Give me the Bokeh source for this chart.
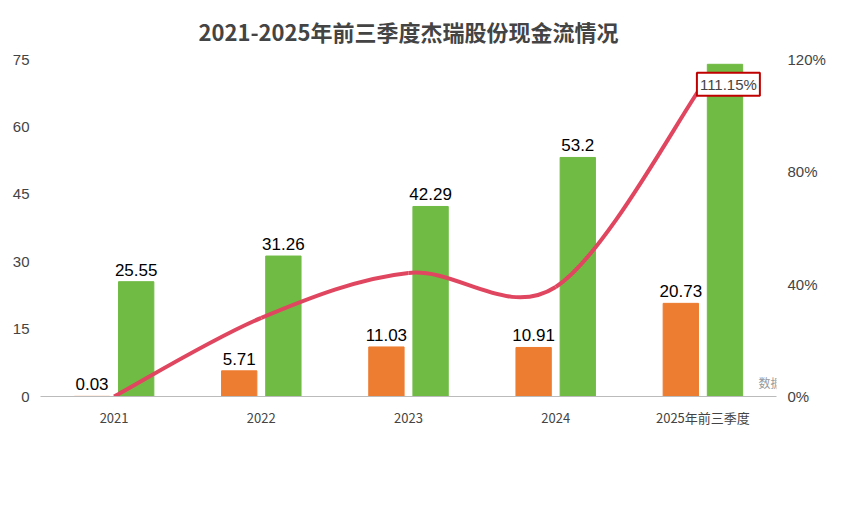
from bokeh.plotting import figure
from bokeh.models import ColumnDataSource, Range1d, LinearAxis, Legend, LegendItem, Label, FixedTicker, CustomJSTickFormatter
from bokeh.transform import dodge
from bokeh.embed import file_html
from bokeh.resources import INLINE

years = ["2021", "2022", "2023", "2024", "2025年前三季度"]
net_increase = [0.03, 5.71, 11.03, 10.91, 20.73]
ending_balance = [25.55, 31.26, 42.29, 53.2, 73.93]
ratio = [0.0, 28.0, 44.0, 39.0, 111.15]

FONT = "Noto Sans CJK SC"
src = ColumnDataSource(dict(x=years, a=net_increase, b=ending_balance,
                            la=[str(v) for v in net_increase], lb=[str(v) for v in ending_balance]))

p = figure(x_range=years, y_range=Range1d(0, 75), width=836, height=496,
           output_backend="svg", toolbar_location=None,
           title="2021-2025年前三季度杰瑞股份现金流情况",
           min_border_left=40, min_border_right=60, min_border_top=10, min_border_bottom=100)
p.title.align = "center"
p.title.text_font = FONT
p.title.text_font_size = "22px"
p.title.text_font_style = "bold"
p.title.standoff = 25
p.outline_line_color = None
p.border_fill_color = "white"
p.xgrid.visible = False
p.ygrid.visible = False

p.yaxis.ticker = FixedTicker(ticks=[0, 15, 30, 45, 60, 75])
p.yaxis.axis_line_color = None
p.yaxis.major_tick_line_color = None
p.yaxis.minor_tick_line_color = None
p.yaxis.major_label_text_font_size = "15px"
p.xaxis.axis_line_color = "#bbbbbb"
p.xaxis.major_tick_line_color = None
p.xaxis.major_label_text_font = FONT
p.xaxis.major_label_text_font_size = "13px"

orange = "#ED7D31"
green = "#70BB44"
r1 = p.vbar(x=dodge("x", -0.15, range=p.x_range), top="a", width=0.24, source=src, color=orange)
r2 = p.vbar(x=dodge("x", 0.15, range=p.x_range), top="b", width=0.24, source=src, color=green)
p.text(x=dodge("x", -0.15, range=p.x_range), y="a", text="la", source=src, text_align="center",
       text_baseline="bottom", y_offset=-6, text_font_size="17px")
p.text(x=dodge("x", 0.15, range=p.x_range), y="b", text="lb", source=src, text_align="center",
       text_baseline="bottom", y_offset=-6, text_font_size="17px")

p.extra_y_ranges = {"r": Range1d(0, 120)}
ax = LinearAxis(y_range_name="r", ticker=FixedTicker(ticks=[0, 40, 80, 120]))
ax.formatter = CustomJSTickFormatter(code="return tick + '%'")
ax.axis_line_color = None
ax.major_tick_line_color = None
ax.minor_tick_line_color = None
ax.major_label_text_font_size = "15px"
p.add_layout(ax, "right")

# smooth curve via Catmull-Rom bezier segments
xs = list(range(len(years)))
x0, y0, x1, y1, cx0, cy0, cx1, cy1 = [], [], [], [], [], [], [], []
for i in range(len(xs) - 1):
    pa = (xs[max(i - 1, 0)], ratio[max(i - 1, 0)])
    pb = (xs[i], ratio[i]); pc = (xs[i + 1], ratio[i + 1])
    pd = (xs[min(i + 2, len(xs) - 1)], ratio[min(i + 2, len(xs) - 1)])
    x0.append(pb[0] + 0.5); y0.append(pb[1]); x1.append(pc[0] + 0.5); y1.append(pc[1])
    cx0.append(pb[0] + 0.5 + (pc[0] - pa[0]) / 6); cy0.append(pb[1] + (pc[1] - pa[1]) / 6)
    cx1.append(pc[0] + 0.5 - (pd[0] - pb[0]) / 6); cy1.append(pc[1] - (pd[1] - pb[1]) / 6)
r3 = p.bezier(x0=x0, y0=y0, x1=x1, y1=y1, cx0=cx0, cy0=cy0, cx1=cx1, cy1=cy1,
              line_color="#E0465F", line_width=4, y_range_name="r")

p.add_layout(Label(x=4.5, y=ratio[-1], y_range_name="r", text="111.15%", x_offset=-6,
                   text_baseline="middle", text_font_size="15px",
                   border_line_color="#C00000", border_line_width=2,
                   background_fill_color="white", padding=3))

leg1 = Legend(items=[LegendItem(label="现金及现金等价物净增加额（亿元）", renderers=[r1]),
                     LegendItem(label="期末现金及现金等价物余额（亿元）", renderers=[r2])],
              orientation="horizontal", border_line_color=None, label_text_font=FONT,
              label_text_font_size="13px", spacing=30, location=(30, -70),
              background_fill_alpha=0, padding=0, margin=0)
leg2 = Legend(items=[LegendItem(label="收现比（%）", renderers=[r3])],
              border_line_color=None, label_text_font=FONT, label_text_font_size="13px",
              location=(30, -98), background_fill_alpha=0, padding=0, margin=0)
p.add_layout(leg1, "center")
p.add_layout(leg2, "center")
p.add_layout(Label(x=826, y=6, x_units="screen", y_units="screen", text="数据来源：公司财报",
                   text_align="right", text_font=FONT, text_font_size="12px", text_color="#999999"))

open("out.html", "w").write(file_html(p, INLINE))
